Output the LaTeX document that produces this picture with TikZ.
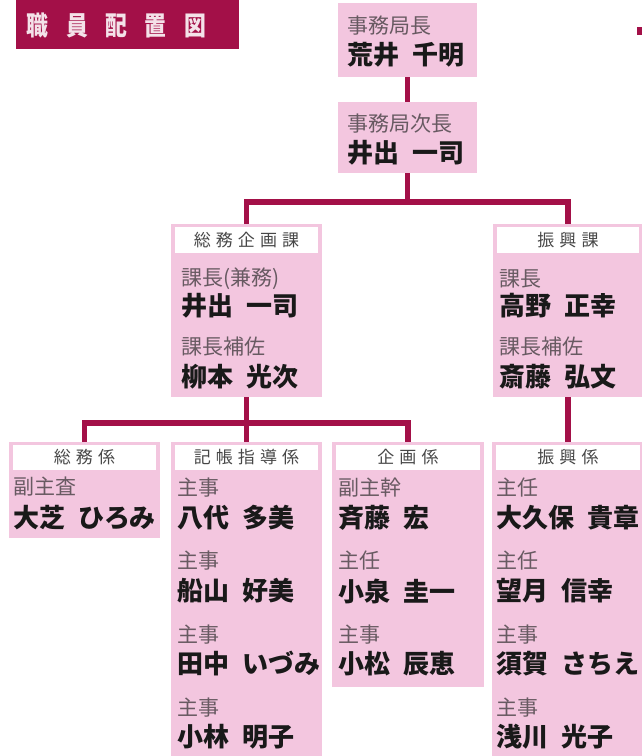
\documentclass[tikz,border=0pt]{standalone}
\usepackage{fontspec}
\newfontfamily\jpfont{Noto Sans CJK JP}
\newfontfamily\hdfont[LetterSpace=30]{Noto Sans CJK JP}
\newfontfamily\ttlfont[LetterSpace=80]{Noto Sans CJK JP}
\definecolor{crimson}{RGB}{163,16,72}
\definecolor{boxpink}{RGB}{243,198,223}
\definecolor{titlegray}{RGB}{104,90,98}
\newcommand{\gap}{\hspace{0.5em}}

\begin{document}
\begin{tikzpicture}[x=1pt,y=-1pt]
        \tikzstyle{every node}=[inner sep=0pt, outer sep=0pt]
        \tikzstyle{box}=[fill=boxpink, anchor=north west]
        \tikzstyle{hdband}=[fill=white, anchor=north, font=\hdfont\fontsize{17}{17}\selectfont, text=black!72]
        \tikzstyle{jobtitle}=[anchor=west, font=\jpfont\fontsize{21}{21}\selectfont, text=titlegray]
        \tikzstyle{person}=[anchor=west, font=\jpfont\bfseries\fontsize{26}{26}\selectfont, text=black!90]
        \tikzstyle{link}=[draw=crimson, line width=5.5pt]
        \useasboundingbox (0,0) rectangle (641,756);
        % title
        \node [fill=crimson, anchor=north west, minimum width=223pt, minimum height=49pt] (titlebox) at (16,0) {};
        \node [anchor=west, font=\ttlfont\bfseries\fontsize{23}{23}\selectfont, text=white!88!crimson] (titletext) at (27,25) {\scalebox{0.95}[1.15]{職員配置図}};
        \node [fill=crimson, anchor=north west, minimum width=6pt, minimum height=8pt] (edgemark) at (637,27) {};
        % top
        \node [box, minimum width=139pt, minimum height=74pt] (chief) at (338,3) {};
        \node [jobtitle] (chieftitle) at (347,26) {事務局長};
        \node [person] (chiefname) at (347,55) {荒井\gap 千明};
        \node [box, minimum width=139pt, minimum height=71pt] (deputy) at (338,102) {};
        \node [jobtitle] (deputytitle) at (347,124) {事務局次長};
        \node [person] (deputyname) at (347,153) {井出\gap 一司};
        % divisions
        \node [box, minimum width=151pt, minimum height=173pt] (soumu) at (171,224) {};
        \node [hdband, minimum width=143pt, minimum height=26pt] (soumuhd) at ([yshift=-3pt]soumu.north) {総務企画課};
        \node [jobtitle] (soumut1) at (181,279) {課長(兼務)};
        \node [person] (soumun1) at (181,306) {井出\gap 一司};
        \node [jobtitle] (soumut2) at (181,347) {課長補佐};
        \node [person] (soumun2) at (181,377) {柳本\gap 光次};
        \node [box, minimum width=150pt, minimum height=173pt] (shinko) at (493,224) {};
        \node [hdband, minimum width=142pt, minimum height=26pt] (shinkohd) at ([yshift=-3pt]shinko.north) {振興課};
        \node [jobtitle] (shinkot1) at (499,279) {課長};
        \node [person] (shinkon1) at (499,306) {高野\gap 正幸};
        \node [jobtitle] (shinkot2) at (499,347) {課長補佐};
        \node [person] (shinkon2) at (499,377) {斎藤\gap 弘文};
        % sections
        \node [box, minimum width=151pt, minimum height=96pt] (somugakari) at (9,442) {};
        \node [hdband, minimum width=143pt, minimum height=25pt] (somugakarihd) at ([yshift=-3pt]somugakari.north) {総務係};
        \node [jobtitle] (somugakarit1) at (13,487) {副主査};
        \node [person] (somugakarin1) at (13,518) {大芝\gap ひろみ};
        \node [box, minimum width=151pt, minimum height=320pt] (kicho) at (171,442) {};
        \node [hdband, minimum width=143pt, minimum height=25pt] (kichohd) at ([yshift=-3pt]kicho.north) {記帳指導係};
        \node [jobtitle] (kichot1) at (177,488) {主事};
        \node [person] (kichon1) at (177,518) {八代\gap 多美};
        \node [jobtitle] (kichot2) at (177,561) {主事};
        \node [person] (kichon2) at (177,591) {船山\gap 好美};
        \node [jobtitle] (kichot3) at (177,635) {主事};
        \node [person] (kichon3) at (177,664) {田中\gap いづみ};
        \node [jobtitle] (kichot4) at (177,708) {主事};
        \node [person] (kichon4) at (177,737) {小林\gap 明子};
        \node [box, minimum width=152pt, minimum height=245pt] (kikaku) at (332,442) {};
        \node [hdband, minimum width=144pt, minimum height=25pt] (kikakuhd) at ([yshift=-3pt]kikaku.north) {企画係};
        \node [jobtitle] (kikakut1) at (338,488) {副主幹};
        \node [person] (kikakun1) at (338,518) {斉藤\gap 宏};
        \node [jobtitle] (kikakut2) at (338,561) {主任};
        \node [person] (kikakun2) at (338,591) {小泉\gap 圭一};
        \node [jobtitle] (kikakut3) at (338,635) {主事};
        \node [person] (kikakun3) at (338,664) {小松\gap 辰恵};
        \node [box, minimum width=152pt, minimum height=320pt] (shinkogakari) at (492,442) {};
        \node [hdband, minimum width=144pt, minimum height=25pt] (shinkogakarihd) at ([yshift=-3pt]shinkogakari.north) {振興係};
        \node [jobtitle] (shinkogakarit1) at (496,488) {主任};
        \node [person] (shinkogakarin1) at (496,518) {大久保\gap 貴章};
        \node [jobtitle] (shinkogakarit2) at (496,561) {主任};
        \node [person] (shinkogakarin2) at (496,591) {望月\gap 信幸};
        \node [jobtitle] (shinkogakarit3) at (496,635) {主事};
        \node [person] (shinkogakarin3) at (496,664) {須賀\gap さちえ};
        \node [jobtitle] (shinkogakarit4) at (496,708) {主事};
        \node [person] (shinkogakarin4) at (496,737) {浅川\gap 光子};
        % connectors
        \coordinate (divbar) at (407.5,202);
        \coordinate (secbar) at (246.5,423);
        \draw [link] (chief.south) -- (deputy.north);
        \draw [link] (deputy.south) -- (divbar);
        \draw [link] (soumu.north) |- (divbar) -| (shinko.north);
        \draw [link] (soumu.south) -- (kicho.north);
        \draw [link] (somugakari.north) |- (secbar) -| (kikaku.north);
        \draw [link] (shinko.south) -- (shinkogakari.north);
    \end{tikzpicture}
\end{document}
